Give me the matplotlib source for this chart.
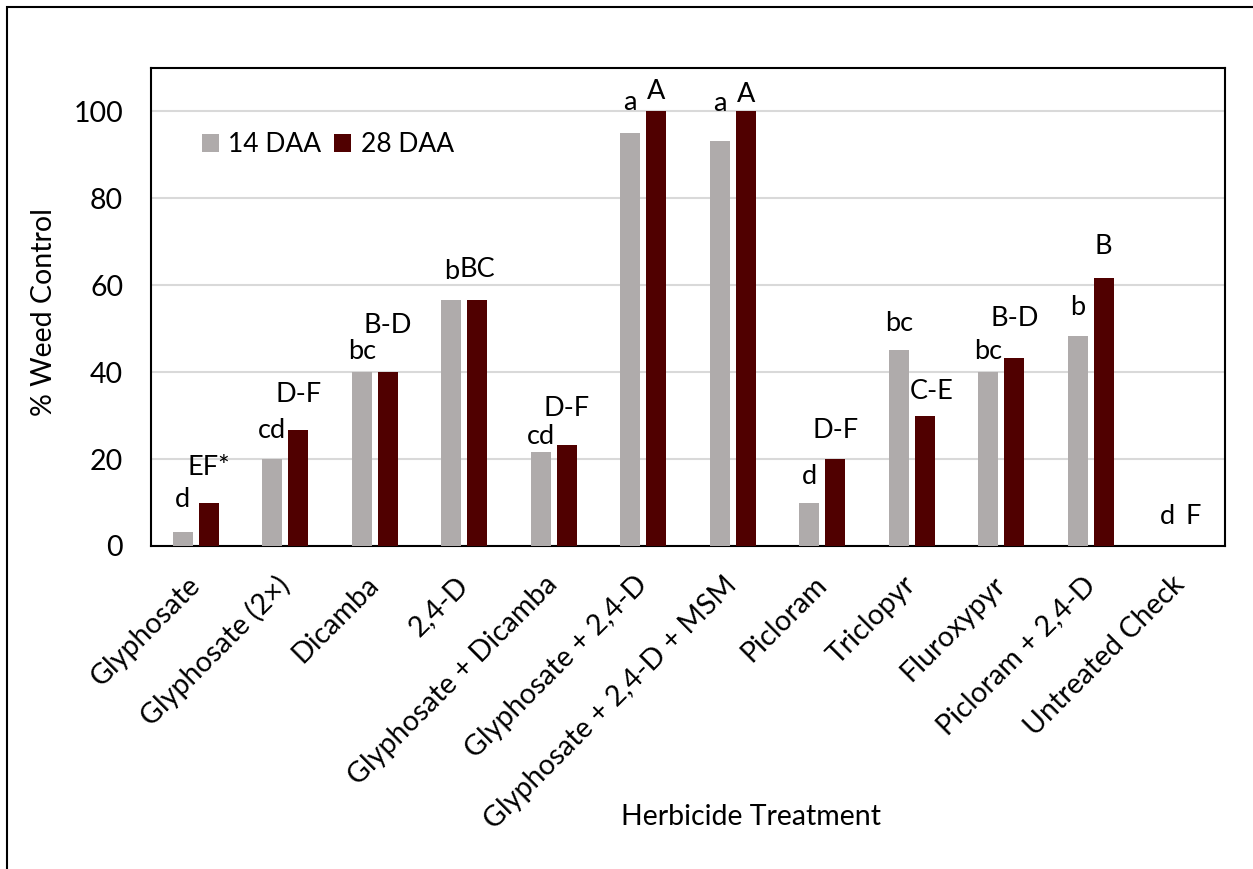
import matplotlib
matplotlib.use('Agg')
import matplotlib.pyplot as plt
from matplotlib.patches import Rectangle
import numpy as np

plt.rcParams['font.family'] = ['Lato', 'DejaVu Sans']

treatments = ['Glyphosate', 'Glyphosate (2×)', 'Dicamba', '2,4-D', 'Glyphosate + Dicamba',
              'Glyphosate + 2,4-D', 'Glyphosate + 2,4-D + MSM', 'Picloram', 'Triclopyr',
              'Fluroxypyr', 'Picloram + 2,4-D', 'Untreated Check']
daa14 = [3.3, 20, 40, 56.7, 21.7, 95, 93.3, 10, 45, 40, 48.3, 0]
daa28 = [10, 26.7, 40, 56.7, 23.3, 100, 100, 20, 30, 43.3, 61.7, 0]
letters14 = ['d', 'cd', 'bc', 'b', 'cd', 'a', 'a', 'd', 'bc', 'bc', 'b', 'd']
letters28 = ['EF*', 'D-F', 'B-D', 'BC', 'D-F', 'A', 'A', 'D-F', 'C-E', 'B-D', 'B', 'F']

# height of each letter group above its bar (text placement only)
lift14 = [7.3, 6.5, 4.7, 6.4, 3.6, 7, 8.5, 5.9, 6.2, 4.7, 6.7, 6.7]
lift28 = [8, 8.1, 10.7, 6.9, 8.3, 4.6, 4, 6.5, 5.5, 9, 7.2, 6.7]

c14 = '#AFABAB'
c28 = '#500000'

fig = plt.figure(figsize=(12.53, 8.69), dpi=100)
ax = fig.add_axes([151/1253, (869-546)/869, (1225-151)/1253, (546-68)/869])

x = np.arange(len(treatments))
w = 0.22
off = 0.145
ax.bar(x - off, daa14, w, color=c14, label='14 DAA', zorder=3)
ax.bar(x + off, daa28, w, color=c28, label='28 DAA', zorder=3)

for i in range(len(x)):
    ax.text(x[i] - off, daa14[i] + lift14[i], letters14[i], ha='center', va='center', fontsize=19.5)
    ax.text(x[i] + off + (0.08 if letters28[i] == 'C-E' else 0), daa28[i] + lift28[i], letters28[i],
            ha='center', va='center', fontsize=19.5)

ax.set_xlim(-0.5, len(x) - 0.5)
ax.set_ylim(0, 110)
ax.set_yticks([0, 20, 40, 60, 80, 100])
ax.yaxis.grid(True, color='#D9D9D9', linewidth=1.5, zorder=0)
ax.set_axisbelow(True)
ax.tick_params(axis='both', length=0, labelsize=20.5)
ax.tick_params(axis='y', pad=20)
ax.tick_params(axis='x', pad=25)
ax.set_xticks(x)
ax.set_xticklabels(treatments, rotation=45, ha='right', va='center', rotation_mode='anchor')
for s in ax.spines.values():
    s.set_linewidth(1.5)
    s.set_color('black')

ax.set_ylabel('% Weed Control', fontsize=20.5)
ax.yaxis.set_label_coords(-94/1074, 0.49)
ax.set_xlabel('Herbicide Treatment', fontsize=20.5)
ax.xaxis.set_label_coords(600/1074, -258/478)

ax.legend(loc='upper left', bbox_to_anchor=(0.025, 0.915), ncol=2, frameon=False, fontsize=19,
          handlelength=0.65, handleheight=0.65, handletextpad=0.35, columnspacing=0.5)

# outer chart frame
fig.patches.append(Rectangle((7/1253, -0.1), 1.2, 1 - 7/869 + 0.1, transform=fig.transFigure,
                             fill=False, edgecolor='black', linewidth=1.5))

fig.savefig('out.png', dpi=100)
